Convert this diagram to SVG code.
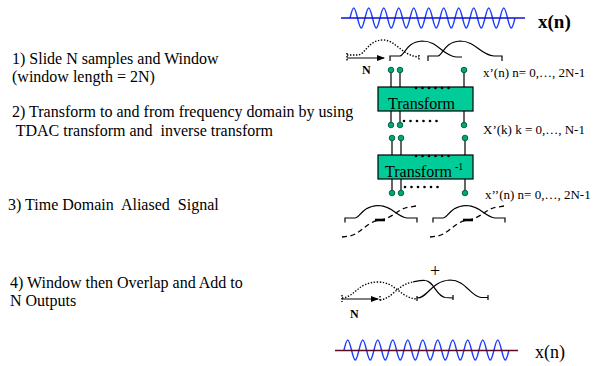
<svg xmlns="http://www.w3.org/2000/svg" width="593" height="366" viewBox="0 0 593 366">
<style>
text{font-family:"Liberation Serif","Times New Roman",serif;fill:#000;white-space:pre}
.lbl{font-size:16px}
.sm{font-size:13px}
.wave{fill:none;stroke:#1a3cff;stroke-width:1.4}
.win{fill:none;stroke:#000;stroke-width:1.2}
.dot{fill:none;stroke:#000;stroke-width:1.4;stroke-dasharray:1.4,1.6}
.dash{fill:none;stroke:#000;stroke-width:1.3;stroke-dasharray:5,3.5}
.pin{fill:#00a878;stroke:#03573f;stroke-width:0.9}
.wire{stroke:#000;stroke-width:1.2}
.box{fill:#00cc99;stroke:#000;stroke-width:1.2}
.bd{fill:#000}
</style>
<defs>
<marker id="ah" markerWidth="8" markerHeight="6" refX="7" refY="3" orient="auto" markerUnits="userSpaceOnUse">
<path d="M0,0 L8,3 L0,6 Z" fill="#000"/>
</marker>
<path id="sine" d="M0,0 c1.223,-5.123 2.393,-10 3.75,-10 c1.357,0 2.527,4.877 3.75,10 c1.223,5.123 2.393,10 3.75,10 c1.357,0 2.527,-4.877 3.75,-10 c1.223,-5.123 2.393,-10 3.75,-10 c1.357,0 2.527,4.877 3.75,10 c1.223,5.123 2.393,10 3.75,10 c1.357,0 2.527,-4.877 3.75,-10 c1.223,-5.123 2.393,-10 3.75,-10 c1.357,0 2.527,4.877 3.75,10 c1.223,5.123 2.393,10 3.75,10 c1.357,0 2.527,-4.877 3.75,-10 c1.223,-5.123 2.393,-10 3.75,-10 c1.357,0 2.527,4.877 3.75,10 c1.223,5.123 2.393,10 3.75,10 c1.357,0 2.527,-4.877 3.75,-10 c1.223,-5.123 2.393,-10 3.75,-10 c1.357,0 2.527,4.877 3.75,10 c1.223,5.123 2.393,10 3.75,10 c1.357,0 2.527,-4.877 3.75,-10 c1.223,-5.123 2.393,-10 3.75,-10 c1.357,0 2.527,4.877 3.75,10 c1.223,5.123 2.393,10 3.75,10 c1.357,0 2.527,-4.877 3.75,-10 c1.223,-5.123 2.393,-10 3.75,-10 c1.357,0 2.527,4.877 3.75,10 c1.223,5.123 2.393,10 3.75,10 c1.357,0 2.527,-4.877 3.75,-10 c1.223,-5.123 2.393,-10 3.75,-10 c1.357,0 2.527,4.877 3.75,10 c1.223,5.123 2.393,10 3.75,10 c1.357,0 2.527,-4.877 3.75,-10 c1.223,-5.123 2.393,-10 3.75,-10 c1.357,0 2.527,4.877 3.75,10 c1.223,5.123 2.393,10 3.75,10 c1.357,0 2.527,-4.877 3.75,-10 c1.223,-5.123 2.393,-10 3.75,-10 c1.357,0 2.527,4.877 3.75,10 c1.223,5.123 2.393,10 3.75,10 c1.357,0 2.527,-4.877 3.75,-10 c1.223,-5.123 2.393,-10 3.75,-10 c1.357,0 2.527,4.877 3.75,10 c1.223,5.123 2.393,10 3.75,10 c1.357,0 2.527,-4.877 3.75,-10"/>
<g id="aliased">
<path class="win" d="M0,0 L10,0 C15,0 17,-12 33,-12.5 C47,-12.5 52,-1 62,0 L72,0 M0,-0.5 V4.5 M72,-0.5 V4.5"/>
<path class="dash" d="M-3,19 L5,18 C17,15 21,4 35,2 C49,0 53,-10 65,-11 L71,-12"/>
<path d="M30,2 L40,2" stroke="#000" stroke-width="2.6"/>
</g>
</defs>

<g id="left-text">
<text class="lbl" x="12" y="64">1) Slide N samples and Window</text>
<text class="lbl" x="12" y="82">(window length = 2N)</text>
<text class="lbl" x="12" y="117">2) Transform to and from frequency domain by using</text>
<text class="lbl" x="12" y="136"> TDAC transform and  inverse transform</text>
<text class="lbl" x="8" y="210">3) Time Domain  Aliased  Signal</text>
<text class="lbl" x="10" y="288">4) Window then Overlap and Add to</text>
<text class="lbl" x="10" y="306">N Outputs</text>
</g>

<g id="input-signal">
<use href="#sine" x="350" y="18" class="wave"/>
<line x1="341" y1="18" x2="525" y2="18" stroke="#1010d0" stroke-width="1.5"/>
<text x="538" y="28" style="font-size:19px;font-weight:bold">x(n)</text>
</g>

<g id="windowing">
<path class="dot" d="M347,55 L358,55 C366,54 368,40 383,40 C396,40 402,56 419,57"/>
<path class="dot" d="M347,53 V61 M419,55 V61"/>
<path class="win" d="M390,56 L400,56 C405,55 406,42 422,41 C438,41 442,55 456,57 L462,57 M390,55.5 V61"/>
<path class="win" d="M428,56 L438,56 C443,55 444,42 460,41 C476,41 480,55 494,56 L502,56 M428,55.5 V61 M502,55.5 V61"/>
<text x="362" y="74" style="font-size:12px;font-weight:bold">N</text>
</g>

<g id="transform">
<path class="wire" d="M391,72 V87 M400,72 V87 M464,72 V87"/>
<circle class="pin" cx="391" cy="70" r="2.8"/>
<circle class="pin" cx="400" cy="70" r="2.8"/>
<circle class="pin" cx="464" cy="70" r="2.8"/>
<rect class="box" x="378" y="87" width="95" height="24"/>
<text x="388" y="109" style="font-size:16px">Transform</text>
<g class="bd"><circle cx="416" cy="88" r="1.3"/><circle cx="422.5" cy="88" r="1.3"/><circle cx="429" cy="88" r="1.3"/><circle cx="435.5" cy="88" r="1.3"/><circle cx="442" cy="88" r="1.3"/><circle cx="448.5" cy="88" r="1.3"/></g>
<path class="wire" d="M391,111 V123 M400,111 V123 M464,111 V123"/>
<g class="bd"><circle cx="404" cy="121" r="1.3"/><circle cx="410.5" cy="121" r="1.3"/><circle cx="417" cy="121" r="1.3"/><circle cx="423.5" cy="121" r="1.3"/><circle cx="430" cy="121" r="1.3"/><circle cx="436.5" cy="121" r="1.3"/></g>
<circle class="pin" cx="391" cy="125" r="2.8"/>
<circle class="pin" cx="400" cy="125" r="2.8"/>
<circle class="pin" cx="464" cy="125" r="2.8"/>
<text class="sm" x="483" y="77">x’(n) n= 0,…, 2N-1</text>
</g>

<g id="inverse-transform">
<path class="wire" d="M392,140 V155 M401,140 V155 M465,140 V155"/>
<circle class="pin" cx="392" cy="138" r="2.8"/>
<circle class="pin" cx="401" cy="138" r="2.8"/>
<circle class="pin" cx="465" cy="138" r="2.8"/>
<rect class="box" x="378" y="155" width="95" height="24"/>
<text x="385" y="177" style="font-size:16px">Transform</text>
<text x="455" y="170" style="font-size:10px">-1</text>
<g class="bd"><circle cx="416" cy="156" r="1.3"/><circle cx="422.5" cy="156" r="1.3"/><circle cx="429" cy="156" r="1.3"/><circle cx="435.5" cy="156" r="1.3"/><circle cx="442" cy="156" r="1.3"/><circle cx="448.5" cy="156" r="1.3"/></g>
<path class="wire" d="M392,179 V191 M401,179 V191 M465,179 V191"/>
<g class="bd"><circle cx="405" cy="187" r="1.3"/><circle cx="411.5" cy="187" r="1.3"/><circle cx="418" cy="187" r="1.3"/><circle cx="424.5" cy="187" r="1.3"/><circle cx="431" cy="187" r="1.3"/><circle cx="437.5" cy="187" r="1.3"/></g>
<circle class="pin" cx="392" cy="193" r="2.8"/>
<circle class="pin" cx="401" cy="193" r="2.8"/>
<circle class="pin" cx="465" cy="193" r="2.8"/>
<text class="sm" x="483" y="134">X’(k) k = 0,…, N-1</text>
<text class="sm" x="485" y="199">x’’(n) n= 0,…, 2N-1</text>
</g>

<g id="aliased-signal">
<use href="#aliased" x="345" y="218"/>
<use href="#aliased" x="433" y="218"/>
</g>

<g id="overlap-add">
<text x="430" y="277" style="font-size:18px">+</text>
<path class="dot" d="M342,298 C355,297 358,282 378,282 C396,282 400,298 417,299"/>
<path class="dot" d="M342,295 V302 M380,296 V302"/>
<path class="dot" d="M380,300 C392,299 398,284 413,282"/>
<path class="win" d="M413,282 C418,281 421,280 425,280.5 C434,281 436,296 445,297.5 L453,298 M453,295 V300"/>
<path class="win" d="M417,298 C428,298 431,281 450,280 C466,280 470,296 481,297.5 L488,297.5 M417,296 V301 M488,295 V300"/>
</g>

<g id="connectors">
<line x1="347" y1="58" x2="384" y2="58" stroke="#000" stroke-width="1.1" marker-end="url(#ah)"/>
<line x1="342" y1="299" x2="378" y2="299" stroke="#000" stroke-width="1.1" marker-end="url(#ah)"/>
</g>
<text x="350" y="318" style="font-size:12px;font-weight:bold">N</text>

<g id="output-signal">
<use href="#sine" x="344" y="350" class="wave"/>
<line x1="335" y1="350.5" x2="518" y2="350.5" stroke="#5a0a24" stroke-width="1.5"/>
<text x="535" y="358" style="font-size:18px">x(n)</text>
</g>
</svg>
